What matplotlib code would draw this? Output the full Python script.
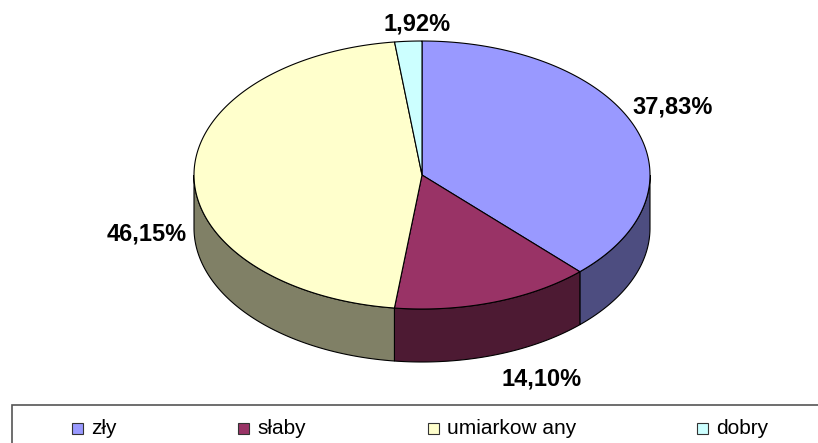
import numpy as np
import matplotlib
matplotlib.use("Agg")
import matplotlib.pyplot as plt
from matplotlib.patches import Polygon, Rectangle

plt.rcParams['font.family'] = ['Liberation Sans', 'DejaVu Sans']

categories = ['zły', 'słaby', 'umiarkow any', 'dobry']
values = [37.83, 14.10, 46.15, 1.92]
labels = ['37,83%', '14,10%', '46,15%', '1,92%']
top_colors = ['#9999FF', '#993366', '#FFFFCC', '#CCFFFF']
side_colors = ['#4D4D80', '#4D1A33', '#808066', '#668080']

# pie geometry in pixels
cx, cy = 422, 175
ra, rb = 228, 134
depth = 53

label_pos = [(673, 107), (542, 379), (147, 234), (417, 24)]
legend_x = [72, 238, 428, 697]


def arc(p1, p2, dy=0.0, n=200):
    phi = np.radians(np.linspace(p1, p2, n))
    return np.column_stack([cx + ra * np.sin(phi), cy - rb * np.cos(phi) + dy])


fig = plt.figure(figsize=(8.18, 4.43), dpi=100)
ax = fig.add_axes([0, 0, 1, 1])
ax.set_xlim(0, 818)
ax.set_ylim(443, 0)
ax.axis('off')

bounds = np.concatenate([[0], np.cumsum(values) / np.sum(values) * 360])

# side walls (front half only: 90..270 degrees clockwise from top)
for i in range(len(values)):
    p1, p2 = max(bounds[i], 90), min(bounds[i + 1], 270)
    if p2 <= p1:
        continue
    top = arc(p1, p2)
    bot = arc(p1, p2, depth)[::-1]
    ax.add_patch(Polygon(np.vstack([top, bot]), closed=True, facecolor=side_colors[i],
                         edgecolor='black', linewidth=0.8, zorder=1))

# top faces
for i in range(len(values)):
    pts = np.vstack([[cx, cy], arc(bounds[i], bounds[i + 1])])
    ax.add_patch(Polygon(pts, closed=True, facecolor=top_colors[i],
                         edgecolor='black', linewidth=0.8, zorder=2))

for (lx, ly), txt in zip(label_pos, labels):
    ax.text(lx, ly, txt, fontsize=17, fontweight='bold', ha='center', va='center', zorder=3)

# legend box
ax.add_patch(Rectangle((12, 405), 820, 60, facecolor='white', edgecolor='#555555',
                       linewidth=1.2, zorder=3, clip_on=False))
for lx, name, col in zip(legend_x, categories, top_colors):
    ax.add_patch(Rectangle((lx, 422.5), 11, 11, facecolor=col, edgecolor='#333333',
                           linewidth=0.8, zorder=4))
    ax.text(lx + 19, 428, name, fontsize=15, ha='left', va='center', zorder=4)

fig.savefig('out.png', dpi=100)
